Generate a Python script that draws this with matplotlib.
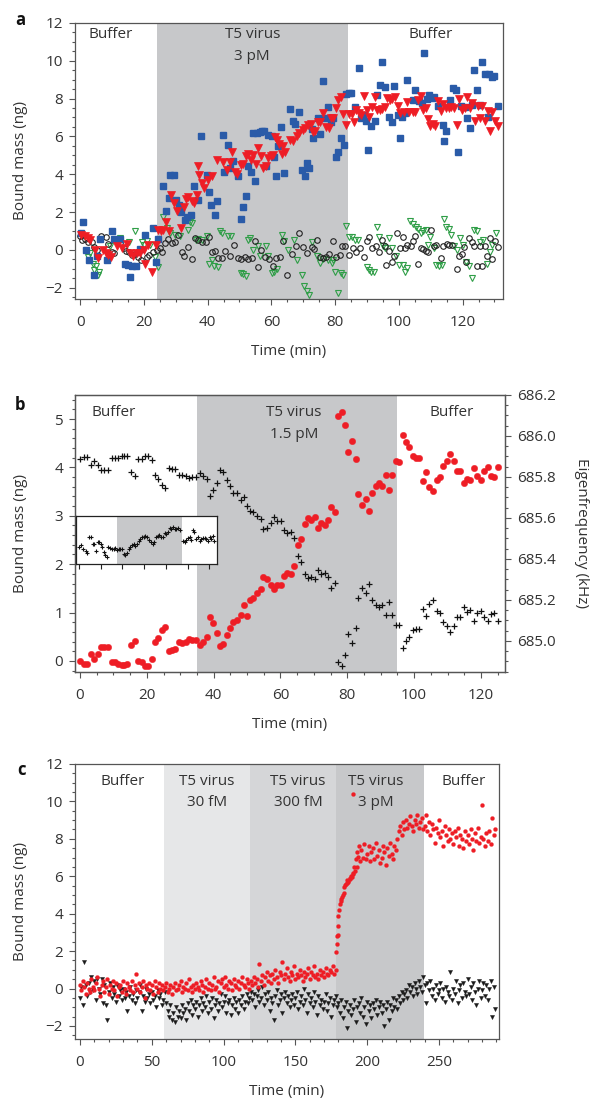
import numpy as np
import matplotlib
matplotlib.use("Agg")
import matplotlib.pyplot as plt
from matplotlib.ticker import MultipleLocator, NullFormatter, FormatStrFormatter

plt.rcParams["font.family"] = ["Open Sans", "DejaVu Sans"]

# ============================================================
# data
# ============================================================

# --- panel a : bound mass (ng) vs time (min)
a_blue_t = [0.2, 0.8, 1.8, 2.7, 4.5, 5.2, 6.3, 8.4, 10.0, 10.7, 12.6, 14.1, 14.9, 15.7, 16.4,
            17.4, 18.7, 20.5, 22.9, 23.7, 24.6, 25.9, 26.9, 27.8, 28.3, 29.4, 30.0, 31.0, 31.7,
            32.9, 33.6, 34.7, 35.6, 37.0, 38.0, 39.7, 40.6, 41.2, 42.2, 42.9, 44.7, 45.2, 46.4,
            47.1, 47.9, 49.5, 50.4, 51.1, 51.9, 52.6, 53.5, 54.2, 55.0, 55.4, 56.4, 57.0, 57.8,
            58.4, 59.1, 60.1, 60.7, 61.6, 62.2, 62.9, 64.1,
            65.8, 66.9, 67.5, 68.6, 69.5, 70.5, 71.1, 71.9, 72.6, 73.1, 74.7, 75.4, 76.1, 76.9,
            77.7, 78.6, 79.2, 80.3, 81.0, 81.7, 82.7, 83.3, 84.4, 85.1, 86.3, 87.6, 88.2, 88.7,
            89.6, 90.4, 91.3, 92.4, 93.2, 94.0, 94.7, 95.6, 97.0, 97.7, 98.6, 99.6, 100.3, 101.0,
            101.9, 102.7, 104.3, 105.2, 106.3, 107.3, 107.9, 108.8, 109.5, 110.3, 110.9, 112.4,
            113.7, 114.1, 114.9, 116.0, 116.9, 117.9, 118.6, 119.6, 120.7, 121.3, 122.2, 123.1,
            123.7, 124.6, 125.3, 126.2, 126.9, 127.9, 128.3, 129.2, 130.0, 131.0]
a_blue_m = [0.88, 1.45, 0.0, -0.56, -1.32, -0.32, 0.56, -0.56, 0.97, 0.56, 0.56, -0.76, -0.79,
            -1.45, -0.88, -0.88, 0.04, 0.79, 1.15, -0.67, 0.58, 3.40, 2.08, 2.75, 3.97, 3.97,
            2.61, 2.38, 2.01, 1.59, 1.71, 1.85, 3.35, 2.65, 6.03, 3.97, 3.05, 2.38, 1.85, 2.56,
            6.08, 4.14, 5.52, 4.32, 4.71, 3.92, 1.64, 2.29, 2.87, 4.46, 4.09, 6.17, 3.65, 6.17,
            6.23, 6.30, 6.30, 4.46, 6.08, 6.03, 4.90, 3.93, 5.50, 6.51, 4.06,
            7.46, 6.79, 6.65, 7.27, 4.20, 3.88, 4.59, 4.32, 6.38, 5.91, 6.97, 6.14, 8.91, 6.97,
            7.53, 6.74, 6.97, 4.90, 5.20, 5.91, 5.56, 8.25, 8.32, 8.32, 7.58, 9.61, 6.97, 7.14,
            6.84, 5.29, 6.56, 6.79, 8.20, 8.73, 9.96, 8.61, 7.02, 6.74, 8.64, 7.14, 5.94, 7.02,
            7.23, 8.99, 7.94, 8.47, 7.85, 7.76, 10.41, 7.97, 8.20, 8.02, 8.08, 7.62, 6.61, 5.78,
            6.31, 7.94, 8.55, 8.47, 5.20, 7.62, 7.58, 6.97, 6.47, 7.67, 9.49, 8.47, 7.67, 9.96,
            9.31, 7.05, 9.28, 9.12, 9.21, 7.62]

a_red_t = [0.3, 1.4, 2.4, 3.1, 4.7, 5.7, 7.3, 8.0, 8.9, 9.7, 11.5, 13.1, 14.6, 15.7, 16.7,
           17.8, 18.8, 19.9, 20.4, 21.2, 22.7, 23.7, 24.4, 25.4, 26.1, 26.9, 28.0, 28.5, 29.5,
           30.3, 31.7, 32.5, 33.2, 34.0, 35.0, 35.7, 36.6, 37.0, 37.3, 38.1, 38.9, 40.2, 41.3,
           43.0, 44.9, 46.2, 47.0, 47.7, 48.6, 49.3, 50.4, 51.2, 52.0, 52.8, 53.5, 54.3, 55.2,
           55.9, 56.6, 57.5, 58.2, 59.0, 59.8, 60.6, 61.3, 61.9, 62.5, 63.2, 63.7, 64.2,
           65.8, 66.9, 67.9, 68.8, 69.8, 70.6, 71.5, 72.3, 73.1, 73.8, 74.6, 75.4, 76.1, 77.1,
           78.0, 78.8, 79.4, 80.2, 80.9, 81.7, 82.5, 83.4, 84.4, 85.3, 85.9, 86.7, 87.6, 88.2,
           89.0, 89.9, 90.7, 91.5, 92.6, 93.2, 94.0, 94.7, 95.5, 96.3, 97.2, 98.0, 98.8, 99.7,
           100.5, 101.6, 102.4, 103.2, 104.3, 105.1, 106.0, 106.8, 107.6, 108.5, 109.1, 109.7,
           110.6, 111.4, 112.2, 113.1, 113.9, 114.7, 115.6, 116.4, 117.3, 118.1, 118.9, 119.7,
           120.6, 121.4, 122.2, 123.1, 123.9, 124.8, 125.4, 126.2, 127.0, 127.9, 128.5, 129.3,
           130.2, 131.0]
a_red_m = [0.79, 0.71, 0.62, 0.53, 0.0, -0.44, 0.0, -0.18, -0.26, -0.39, 0.18, 0.09, 0.32,
           -0.18, -0.32, -0.18, -0.18, 0.0, -0.74, 0.26, -1.15, 0.26, 1.06, 0.97, 1.06, 1.46,
           0.97, 2.91, 2.47, 2.08, 1.18, 2.29, 2.68, 2.79, 2.56, 2.50, 2.91, 4.44, 3.97, 3.53,
           3.26, 3.67, 3.92,
           4.73, 4.64, 4.23, 4.67, 5.20, 4.14, 4.00, 4.50, 4.53, 4.94, 5.08, 4.76, 5.03, 4.53,
           5.41, 4.94, 4.32, 4.41, 4.85, 4.97, 5.03, 5.96, 5.82, 5.61, 5.08, 5.47, 5.15,
           5.82, 5.73, 6.00, 6.17, 6.35, 6.44, 6.61, 6.67, 6.21, 6.26, 6.74, 6.74, 7.23, 6.49,
           6.44, 6.97, 6.97, 7.50, 7.94, 8.06, 7.20, 6.61, 7.20, 7.20, 6.75, 7.41, 7.23, 7.14,
           8.15, 7.41, 7.05, 7.55, 8.08, 7.41, 7.41, 7.46, 7.55, 8.02, 7.94, 7.97, 8.08, 7.62,
           7.23, 7.27, 7.80, 7.27, 7.27, 7.27, 7.90, 8.11, 7.41, 7.50, 6.91, 6.56, 6.67, 6.56,
           7.85, 7.32, 7.72, 7.50, 7.50, 7.58, 7.50, 6.61, 7.97, 7.41, 7.50, 8.08, 7.50, 7.76,
           6.84, 7.62, 6.97, 7.62, 6.79, 7.32, 6.31, 7.27, 6.84, 6.56]

a_green_t = [2.6, 3.1, 3.9, 4.5, 4.9, 5.5, 6.0, 9.4, 12.0, 12.5, 15.2, 17.2, 19.3, 19.9, 20.9,
             22.0, 23.5, 24.4, 26.1, 27.2, 28.2, 29.8, 31.3, 33.9, 34.5, 35.2, 36.3, 37.1, 38.1,
             39.7, 40.4, 41.3, 42.1, 43.2, 43.9, 44.4, 46.3, 47.5, 50.4, 51.2, 51.9, 52.8, 53.3,
             54.3, 55.7, 56.4, 58.2, 59.0, 60.1, 60.9, 61.7, 63.2, 64.1, 65.3,
             67.1, 67.9, 69.5, 70.2, 71.1, 71.9, 72.9, 74.2, 75.4, 76.3, 77.8, 78.9, 79.4, 80.1,
             81.0, 81.7, 82.5, 83.4, 84.4, 85.3, 86.3, 87.2, 89.9, 90.7, 91.4, 92.2, 93.0, 93.8,
             94.9, 95.7, 97.0, 98.0, 99.0, 100.1, 101.2, 102.0, 102.6, 103.5, 104.5, 105.3,
             106.1, 106.8, 107.6, 108.5, 109.2, 109.9, 111.0, 111.8, 112.6, 113.4, 114.1, 114.7,
             115.6, 116.4, 117.4, 118.1, 119.1, 120.2, 121.2, 122.0, 122.9, 123.5, 124.4, 125.4,
             126.4, 127.7, 128.5, 129.3, 130.4]
a_green_m = [-0.39, -0.18, -0.74, -1.06, -0.88, -1.32, -1.15, 0.18, 0.53, 0.62, 0.44, 1.02,
             0.44, 0.26, 0.49, 0.26, -0.39, -0.92, 1.76, 1.15, 0.88, 0.79, 0.74, 1.06, 1.45,
             1.41, 0.53, 0.56, 0.53, 0.74, -0.74, -0.53, -0.85, -0.92, 1.01, 0.88, 0.74, 0.71,
             -1.20, -1.27, -1.38, 0.53, 0.62, 0.0, 0.18, -0.32, 0.21, -0.35, -1.20, -1.15, -1.02,
             0.79, 0.49, 0.0,
             0.53, -0.53, -1.32, -1.90, -2.20, -2.38, 0.44, -0.35, -0.71, -0.49, -0.53, -0.71,
             -0.53, -1.15, -2.26, -1.23, -1.32, 1.27, 0.67, 0.67, 0.53, 0.53, -0.92, -1.09,
             -1.15, -1.15, 1.20, 0.67, 0.18, 0.09, 0.62, 0.09, -0.32, -0.79, -0.79, -1.15, -0.97,
             1.55, 1.38, 1.23, 1.09, 0.88, 1.02, 1.06, 0.26, 0.67, 0.09, -0.79, -0.85, -0.79,
             1.62, 1.23, 1.09, 0.79, 0.21, 0.0, 0.62, 0.26, -0.62, -0.88, -1.50, 1.06, 1.02,
             0.44, 0.53, -0.74, -0.09, 0.26, 0.88]

a_black_t = [0.0, 0.7, 1.6, 2.6, 3.7, 4.5, 5.2, 6.6, 8.0, 8.9, 9.9, 10.8, 12.5, 13.9, 14.3,
             15.2, 16.4, 17.2, 18.1, 19.1, 20.9, 21.6, 23.0, 24.0, 25.1, 25.8, 26.6, 27.7, 28.7,
             29.8, 30.8, 31.9, 32.7, 33.9, 35.0, 36.0, 37.1, 38.1, 39.4, 40.5, 41.5, 42.3, 43.4,
             44.4, 45.5, 47.0, 48.4, 49.4, 50.4, 51.7, 52.8, 53.8, 54.9, 55.9, 56.9, 58.0, 59.2,
             60.6, 61.6, 62.7, 63.7, 64.8,
             66.4, 67.7, 68.8, 70.0, 71.3, 72.6, 73.4, 74.4, 75.4, 76.3, 77.1, 78.2, 79.2, 80.3,
             81.5, 82.3, 83.1, 84.4, 85.7, 86.7, 87.8, 89.0, 89.9, 90.7, 91.7, 92.8, 93.8, 94.7,
             95.6, 96.1, 97.0, 97.8, 98.6, 99.5, 100.3, 101.2, 101.9, 102.6, 103.7, 104.5, 105.0,
             106.0, 106.8, 107.6, 108.5, 109.2, 110.1, 111.0, 111.8, 113.2, 113.9, 115.0, 115.8,
             116.8, 118.1, 118.9, 119.7, 120.4, 121.2, 122.0, 122.9, 123.7, 124.6, 125.4, 126.2,
             127.0, 127.8, 128.5, 129.3, 130.2, 131.0]
a_black_m = [0.74, 0.53, 0.56, 0.44, 0.39, 0.14, 0.0, 0.74, 0.67, 0.32, -0.09, -0.18, 0.35,
             0.09, -0.04, -0.09, -0.26, -0.21, -0.39, -0.53, -0.39, -0.26, -0.09, 0.0, 0.09,
             -0.09, 0.35, 0.56, 0.35, 0.44, 0.79, -0.09, -0.32, 0.14, -0.49, 0.62, 0.53, 0.44,
             0.44, 0.67, -0.09, -0.05, -0.44, -0.44, -0.04, -0.32, 0.26, -0.44, -0.49, -0.39,
             -0.49, -0.44, 0.49, -0.92, 0.0, -0.39, -0.49, -0.88, -0.44, -0.39, 0.49, -1.32,
             -0.21, 0.18, 0.88, 0.14, -0.18, 0.14, 0.04, 0.53, -0.39, -0.44, -0.39, -0.21, 0.49,
             -0.39, -0.26, 0.18, 0.21, -0.26, 0.09, -0.09, 0.09, -0.39, 0.49, 0.67, 0.09, 0.21,
             -0.09, 0.53, 0.18, -0.79, -0.04, -0.62, -0.35, 0.88, 0.09, 0.67, 0.09, 0.26, 0.21,
             0.49, 0.74, -0.74, 0.09, 0.04, -0.04, -0.09, 1.06, 0.21, 0.26, -0.44, 0.21, 0.32,
             0.26, 0.26, -1.02, -0.35, -0.21, 0.14, -0.62, 0.62, 0.44, 0.21, -0.85, 0.18, -0.85,
             0.21, -0.35, 0.62, -0.49, 0.49, 0.14]

# --- panel b : bound mass (ng, left) and eigenfrequency (kHz, right)
b_t = [0.0, 1.2, 2.2, 3.2, 4.3, 5.3, 6.3, 7.3, 8.3, 9.5, 10.5, 11.5, 12.5, 13.3, 14.2, 15.2,
       16.5, 17.5, 18.5, 19.5, 20.5, 21.5, 22.5, 23.5, 24.5, 25.5, 26.5, 27.5, 28.5, 29.6, 30.6,
       31.6, 32.6, 33.6, 34.8, 35.9, 36.9, 37.9, 38.9, 39.9, 40.9, 41.9, 42.9, 43.9, 44.9, 45.9,
       46.9, 48.1, 49.1, 49.9, 50.9, 51.9, 52.9, 54.1, 54.9, 56.1, 57.1, 58.1, 59.1, 60.1, 61.1,
       62.1, 63.2, 64.2, 65.2, 66.2, 67.2, 68.2, 69.2, 70.2, 71.2, 72.2, 73.2, 74.2, 75.1, 76.3,
       77.3, 78.3, 79.3, 80.3, 81.3, 82.5, 83.3, 84.3, 85.5, 86.5, 87.5, 88.5, 89.5, 90.5, 91.5,
       92.5, 93.5, 94.5, 95.6, 96.6, 97.6, 98.6, 99.6, 100.6, 101.6, 102.6, 103.6, 104.6, 105.8,
       106.8, 107.8, 108.8, 109.8, 110.8, 111.8, 112.8, 113.8, 114.8, 115.8, 116.8, 117.8,
       118.8, 120.0, 121.0, 122.0, 123.0, 124.0, 125.0]
b_mass = [0.0, -0.06, -0.06, 0.14, 0.03, 0.14, 0.28, 0.28, 0.28, -0.03, -0.03, -0.06, -0.09,
          -0.09, -0.06, 0.32, 0.41, -0.01, -0.03, -0.10, -0.10, 0.03, 0.38, 0.48, 0.63, 0.69,
          0.21, 0.23, 0.24, 0.38, 0.37, 0.39, 0.46, 0.43, 0.43, 0.33, 0.40, 0.49, 0.90, 0.78,
          0.58, 0.30, 0.35, 0.54, 0.67, 0.81, 0.85, 0.94, 1.15, 0.93, 1.26, 1.30, 1.40, 1.48,
          1.73, 1.69, 1.57, 1.48, 1.56, 1.56, 1.76, 1.81,
          1.79, 1.96, 2.39, 2.53, 2.84, 2.95, 2.91, 2.98, 2.74, 2.86, 2.81, 2.91, 3.19, 3.07,
          5.06, 5.15, 4.87, 4.32, 4.55, 4.17, 3.45, 3.22, 3.34, 3.09, 3.48, 3.61, 3.68, 3.62,
          3.85, 3.53, 3.84, 4.13, 4.12, 4.68, 4.52, 4.42, 4.24, 4.19, 4.19, 3.71, 3.90, 3.60,
          3.51, 3.74, 3.81, 4.04, 4.14, 4.27, 4.14, 3.93, 3.93, 3.67, 3.77, 3.74, 3.99, 3.82,
          3.74, 3.92, 4.02, 3.83, 3.80, 4.01]
b_freq = [685.885, 685.896, 685.896, 685.860, 685.876, 685.860, 685.836, 685.836, 685.836,
          685.893, 685.893, 685.893, 685.904, 685.904, 685.901, 685.823, 685.803, 685.888,
          685.888, 685.904, 685.904, 685.881, 685.811, 685.790, 685.762, 685.746, 685.844,
          685.839, 685.839, 685.811, 685.811, 685.803, 685.795, 685.800, 685.800, 685.820,
          685.806, 685.790, 685.705, 685.734, 685.771, 685.832, 685.823, 685.783, 685.757,
          685.722, 685.722, 685.689, 685.702, 685.659, 685.636, 685.631, 685.610, 685.594,
          685.545, 685.550, 685.577, 685.604, 685.587, 685.587, 685.542, 685.528,
          685.533, 685.501, 685.414, 685.386, 685.327, 685.308, 685.311, 685.300, 685.347,
          685.324, 685.332, 685.310, 685.259, 685.282, 684.896, 684.875, 684.929, 685.035,
          684.989, 685.065, 685.207, 685.256, 685.231, 685.277, 685.200, 685.174, 685.166,
          685.177, 685.128, 685.189, 685.128, 685.075, 685.076, 684.965, 684.998, 685.017,
          685.051, 685.060, 685.060, 685.154, 685.120, 685.182, 685.197, 685.148, 685.138,
          685.091, 685.070, 685.043, 685.073, 685.114, 685.114, 685.166, 685.143, 685.151,
          685.099, 685.135, 685.145, 685.114, 685.096, 685.133, 685.138, 685.097]

# inset of panel b (no scale given, arbitrary units)
inset_t = [0.3, 1.8, 4.0, 6.2, 7.7, 9.5, 11.1, 12.6, 14.2, 15.7, 17.2, 18.7, 20.3, 21.5, 23.0,
           24.3, 25.5, 27.0, 28.6, 30.4, 31.9, 33.5, 35.0, 36.6, 38.1, 39.6, 41.2, 42.7, 44.2,
           45.8, 47.3, 48.9, 50.4, 51.9, 53.5, 55.0, 56.5, 58.1, 59.6, 61.1, 62.7, 64.8, 66.4,
           67.9, 69.4, 71.0, 72.5, 74.0, 75.6, 77.1, 78.7, 80.2, 81.7, 83.3, 84.8, 86.3, 87.9,
           89.4, 90.9, 92.5, 95.5, 97.1, 98.6, 100.2, 101.7, 103.5, 105.1, 106.0, 107.8, 109.4,
           110.9, 112.4, 114.0, 115.5, 117.1, 118.6, 120.1, 121.7, 123.2, 124.1]
inset_v = [3.5, 3.9, 3.2, 2.8, 2.2, 5.7, 5.6, 4.2, 4.2, 2.7, 4.6, 4.5, 4.1, 3.5, 2.5, 1.8,
           1.4, 3.6, 3.4, 3.1, 3.1, 3.4, 2.9, 3.1, 3.1, 3.1, 2.1, 1.8, 2.4, 3.1, 3.6, 3.9, 4.1,
           3.8, 4.2, 4.8, 5.3, 5.6, 5.7, 5.9, 5.7, 5.0, 4.6, 4.2, 4.6, 5.7, 5.9, 6.0, 5.7, 5.6,
           6.4, 6.2, 6.6, 7.6, 7.3, 7.7, 7.3, 7.4, 7.6, 7.0, 4.8, 4.6, 5.0, 5.5, 5.6, 5.0, 7.0,
           6.7, 5.2, 5.6, 4.8, 5.2, 5.5, 5.5, 5.2, 4.9, 5.6, 5.2, 5.9, 4.8]

# --- panel c : one reading per minute, 0..289 min
c_red = [0.2, -0.1, 0.4, 0.1, -0.3, 0.3, 0.0, -0.2, 0.5, 0.1,
         -0.1, 0.3, 0.6, 0.0, -0.4, 0.2, 0.4, -0.2, 0.1, 0.5,
         -0.3, 0.2, 0.0, 0.4, -0.1, 0.3, -0.4, 0.1, 0.2, -0.2,
         0.4, 0.0, -0.3, 0.3, 0.1, -0.1, 0.4, -0.2, 0.2, 0.8,
         0.0, 0.3, -0.2, 0.1, 0.4, -0.5, 0.2, 0.0, 0.3, -0.1,
         0.2, -0.3, 0.4, 0.1, -0.2, 0.3, 0.0, 0.2, -0.1, 0.1,
         0.3, -0.2, 0.0, 0.2, -0.3, 0.1, 0.3, -0.1, 0.0, 0.2,
         0.4, -0.2, 0.1, 0.0, 0.3, -0.1, 0.5, 0.1, -0.2, 0.2,
         0.0, 0.3, 0.1, -0.1, 0.4, 0.2, -0.2, 0.1, 0.5, 0.0,
         0.3, -0.1, 0.2, 0.6, 0.0, 0.1, 0.4, -0.2, 0.3, 0.5,
         0.1, 0.6, 0.2, 0.0, 0.4, 0.3, -0.1, 0.5, 0.2, 0.1,
         0.4, 0.0, 0.3, 0.6, 0.2, 0.1, 0.5, 0.3, 0.0, 0.4,
         0.2, 0.6, 0.3, 0.5, 0.1, 1.3, 0.4, 0.7, 0.2, 0.6,
         0.9, 0.4, 0.7, 0.3, 0.8, 0.5, 1.0, 0.6, 0.3, 0.9,
         0.7, 1.4, 0.5, 0.8, 1.1, 0.6, 0.4, 0.9, 0.7, 1.2,
         0.5, 0.8, 0.6, 1.0, 0.7, 0.4, 0.9, 0.6, 0.8, 1.1,
         0.5, 0.9, 0.7, 1.2, 0.6, 0.8, 0.5, 1.0, 0.7, 0.9,
         0.6, 1.1, 0.8, 0.7, 1.0, 0.9, 1.2, 0.8, 1.0, 2.8,
         3.9, 4.5, 4.8, 5.0, 5.4, 5.6, 5.8, 5.7, 5.9, 6.0,
         6.2, 6.5, 6.9, 7.3, 7.6, 6.8, 7.4, 7.0, 7.7, 6.9,
         7.2, 7.6, 6.8, 7.3, 7.5, 6.9, 7.8, 7.1, 7.4, 6.7,
         7.0, 7.6, 7.3, 6.6, 7.5, 7.1, 7.8, 7.2, 6.9, 7.6,
         7.4, 8.0, 8.4, 8.7, 8.2, 8.9, 8.5, 9.0, 8.6, 8.8,
         9.2, 8.7, 8.4, 9.0, 8.8, 9.3, 8.6, 8.9, 9.1, 8.5,
         8.7, 9.3, 8.4, 8.9, 8.2, 8.8, 8.5, 7.8, 8.6, 8.3,
         9.0, 8.1, 8.4, 7.6, 8.7, 8.2, 7.9, 8.5, 8.0, 8.3,
         7.7, 8.4, 8.1, 8.6, 7.6, 8.2, 8.0, 7.5, 8.4, 7.9,
         8.2, 7.7, 8.5, 8.0, 7.4, 8.3, 7.9, 8.6, 7.8, 8.1,
         9.8, 8.0, 7.6, 8.3, 7.9, 8.4, 7.7, 9.1, 8.2, 8.5]
c_black = [-0.5, 0.1, -0.9, 1.4, 0.2, -0.4, 0.3, -0.2, 0.6, -0.1,
           0.4, -0.6, 0.5, 0.0, -0.3, 0.5, -0.8, 0.2, -0.9, -1.7,
           -0.2, 0.3, -0.5, 0.1, -0.3, -0.7, 0.2, -0.4, -0.1, -0.6,
           0.0, -0.5, -0.2, -1.2, -0.4, 0.1, -0.6, -0.3, -0.8, -0.1,
           -0.5, -0.2, 0.2, -1.2, -0.4, -0.7, 0.0, -0.5, -0.3, -0.8,
           -0.2, -0.6, -0.4, -1.0, -0.1, -0.5, -0.3, -0.9, -0.6, -0.2,
           -0.8, -1.2, -1.5, -0.9, -1.7, -1.3, -1.8, -1.0, -1.5, -1.2,
           -1.6, -0.9, -1.3, -1.1, -1.7, -0.8, -1.2, -0.6, -1.4, -0.9,
           -1.1, -0.7, -1.5, -0.9, -0.5, -1.2, -0.8, -1.0, -0.4, -1.3,
           -0.7, -1.1, -0.5, -1.6, -0.9, -0.6, -1.2, -0.8, -0.3, -1.0,
           -0.7, -0.4, -1.3, -0.8, -0.6, -1.4, -0.9, -0.5, -1.1, -0.7,
           -1.3, -0.6, -0.9, -0.4, -1.1, -0.7, -0.3, -0.8, -0.5, -0.2,
           -0.6, -0.3, -1.0, -0.4, -0.1, -0.7, -0.5, 0.1, -0.9, -0.3,
           -0.6, -0.2, -1.2, -0.5, -0.8, -1.7, -0.4, -0.1, -0.9, -0.6,
           -0.3, -1.3, -0.5, -0.2, -0.8, -0.4, -1.0, -0.6, -0.3, -0.9,
           -0.5, -0.2, -1.1, -0.7, -0.4, -0.9, 0.0, -0.6, -1.3, -0.3,
           -0.8, -0.5, -1.0, -0.2, -0.7, -1.4, -0.4, -0.9, -0.6, -1.1,
           -0.7, -0.3, -1.2, -0.8, -0.5, -1.5, -0.9, -0.6, -0.4, -1.0,
           -0.8, -1.3, -0.6, -1.6, -1.0, -0.7, -2.1, -1.2, -0.9, -1.4,
           -1.1, -0.6, -1.8, -1.0, -0.8, -1.3, -0.5, -1.5, -1.0, -1.9,
           -0.7, -1.2, -0.9, -1.6, -0.8, -1.1, -0.6, -1.4, -1.0, -0.7,
           -1.3, -0.9, -2.0, -1.1, -0.7, -1.7, -0.9, -1.2, -0.5, -1.0,
           -0.6, -1.1, -0.4, -0.8, -0.2, -0.6, -0.3, -0.1, -0.5, 0.2,
           -0.2, 0.1, -0.4, 0.3, 0.0, -0.3, 0.4, 0.1, -0.2, 0.6,
           0.2, -0.8, 0.3, -0.1, 0.4, -0.4, 0.0, -0.6, 0.2, -0.3,
           -0.1, 0.3, -0.5, 0.0, -0.7, 0.1, -0.2, -0.4, 0.9, -0.6,
           0.0, -0.3, 0.4, -0.8, -0.1, 0.2, -0.5, 0.3, -0.2, -0.4,
           0.5, -0.3, 0.1, -0.6, 0.3, -0.2, -0.9, 0.0, 0.4, -0.5,
           -0.1, 0.3, -0.4, 0.2, -0.6, 0.0, 0.4, -1.5, 0.1, -1.1]
c_t = np.arange(len(c_red), dtype=float)  # 1 min sampling

# extra red points on the steep rise after 3 pM injection
c_rise_t = [178.3, 178.7, 179.4, 179.9, 180.6, 181.5, 182.5, 183.8, 184.5, 185.7, 186.9,
            188.0, 189.2, 190.3, 190.3, 191.5, 192.7, 193.8]
c_rise_m = [1.96, 2.37, 2.85, 3.33, 4.19, 4.68, 4.90, 5.08, 5.52, 5.65, 5.76, 5.83, 5.97, 6.11,
            10.4, 6.29, 6.51, 7.04]

# ============================================================
# style
# ============================================================

RED = "#ee1d25"
BLUE = "#2a5ba8"
GREEN = "#2f9e47"
GRAY = "#c7c8ca"
EDGE = "#555555"
TXT = "#333333"
FS = 11
W_PX = 595.0


def style_axes(ax, xmaj, xmin, ymaj, ymin):
    ax.xaxis.set_major_locator(MultipleLocator(xmaj))
    ax.xaxis.set_minor_locator(MultipleLocator(xmin))
    ax.yaxis.set_major_locator(MultipleLocator(ymaj))
    ax.yaxis.set_minor_locator(MultipleLocator(ymin))
    ax.tick_params(which="both", direction="out", color=EDGE, labelcolor=TXT,
                   labelsize=FS, width=0.8, top=False, right=False)
    ax.tick_params(which="major", length=4.5)
    ax.tick_params(which="minor", length=2.5)
    ax.tick_params(axis="y", which="major", pad=4)
    ax.tick_params(axis="x", which="major", pad=7)
    for sp in ax.spines.values():
        sp.set_color(EDGE)
        sp.set_linewidth(0.9)


def set_labels(ax, width_px):
    ax.set_xlabel("Time (min)", fontsize=FS, color=TXT, labelpad=10)
    ax.set_ylabel("Bound mass (ng)", fontsize=FS, color=TXT)
    # right edge of the rotated label sits ~28 px from the figure edge
    ax.yaxis.set_label_coords((28 - 75) / width_px, 0.5)


def region_text(ax, x, lines, ys):
    tr = ax.get_xaxis_transform()
    for s, y in zip(lines, ys):
        ax.text(x, y, s, transform=tr, ha="center", va="center",
                fontsize=FS, color=TXT)


fig = plt.figure(figsize=(5.95, 10.98), dpi=100)

# ------------------------------------------------------------
# panel a
# ------------------------------------------------------------
ax = fig.add_axes([0.126, 0.7277, 0.719, 0.2514])
ax.axvspan(24, 84, color=GRAY, lw=0, zorder=0)
ax.plot(a_green_t, a_green_m, ls="none", marker="v", ms=4.2, mfc="none",
        mec=GREEN, mew=0.8, zorder=2)
ax.plot(a_black_t, a_black_m, ls="none", marker="o", ms=4.0, mfc="none",
        mec="#222222", mew=0.8, zorder=3)
ax.plot(a_blue_t, a_blue_m, ls="none", marker="s", ms=4.3, mfc=BLUE,
        mec=BLUE, zorder=4)
ax.plot(a_red_t, a_red_m, ls="none", marker="v", ms=5.2, mfc=RED,
        mec=RED, mew=0.5, zorder=5)
ax.set_xlim(-1.6, 132.6)
ax.set_ylim(-2.6, 12)
style_axes(ax, 20, 5, 2, 0.5)
set_labels(ax, 0.719 * W_PX)
region_text(ax, 9.5, ["Buffer"], [0.958])
region_text(ax, 54, ["T5 virus", "3 pM"], [0.958, 0.878])
region_text(ax, 110, ["Buffer"], [0.958])
fig.text(0.034, 1 - 20 / 1098, "a", fontsize=12, fontweight="bold",
         ha="center", va="center", color="#111111")

# ------------------------------------------------------------
# panel b
# ------------------------------------------------------------
ax = fig.add_axes([0.126, 0.388, 0.7227, 0.2523])
ax.axvspan(35, 95, color=GRAY, lw=0, zorder=0)
ax.plot(b_t, b_mass, ls="none", marker="o", ms=4.6, mfc=RED, mec=RED,
        mew=0.3, zorder=4)
ax.set_xlim(-1.5, 127.2)
ax.set_ylim(-0.23, 5.5)
style_axes(ax, 20, 5, 1, 0.2)
set_labels(ax, 0.7227 * W_PX)
region_text(ax, 10.2, ["Buffer"], [0.935])
region_text(ax, 64, ["T5 virus", "1.5 pM"], [0.935, 0.859])
region_text(ax, 111.4, ["Buffer"], [0.935])

ax2 = ax.twinx()
ax2.plot(b_t, b_freq, ls="none", marker="+", ms=5, mec="#111111", mew=0.9)
ax2.set_ylim(684.848, 686.2)
ax2.yaxis.set_major_locator(MultipleLocator(0.2))
ax2.yaxis.set_minor_locator(MultipleLocator(0.05))
ax2.yaxis.set_major_formatter(FormatStrFormatter("%.1f"))
ax2.tick_params(which="both", direction="out", color=EDGE, labelcolor=TXT,
                labelsize=FS, width=0.8)
ax2.tick_params(which="major", length=4.5, pad=4)
ax2.tick_params(which="minor", length=2.5)
for sp in ax2.spines.values():
    sp.set_color(EDGE)
    sp.set_linewidth(0.9)
ax2.set_ylabel("Eigenfrequency (kHz)", fontsize=FS, color=TXT, rotation=270)
ax2.yaxis.set_label_coords((589 - 75) / (0.7227 * W_PX), 0.5)
fig.text(0.034, 1 - 405 / 1098, "b", fontsize=12, fontweight="bold",
         ha="center", va="center", color="#111111")

# inset
axi = fig.add_axes([0.1277, 0.4863, 0.237, 0.0437], zorder=10)
axi.set_facecolor("white")
axi.axvspan(35, 95, color=GRAY, lw=0, zorder=0)
axi.plot(inset_t, inset_v, ls="none", marker="+", ms=2.6, mec="#111111",
         mew=0.8, zorder=3)
axi.set_xlim(-2.8, 127)
axi.set_ylim(0, 10)
axi.xaxis.set_major_locator(MultipleLocator(20))
axi.xaxis.set_major_formatter(NullFormatter())
axi.set_yticks([])
axi.tick_params(axis="x", direction="out", length=3.5, width=0.8, color="#222222")
for sp in axi.spines.values():
    sp.set_color("#222222")
    sp.set_linewidth(0.9)

# ------------------------------------------------------------
# panel c
# ------------------------------------------------------------
ax = fig.add_axes([0.126, 0.0537, 0.7126, 0.2505])
ax.axvspan(58.5, 118.5, color="#e6e7e8", lw=0, zorder=0)
ax.axvspan(118.5, 178.5, color="#d5d6d8", lw=0, zorder=0)
ax.axvspan(178.5, 239.5, color="#c7c8ca", lw=0, zorder=0)
ax.plot(c_t, c_black, ls="none", marker="v", ms=3.0, mfc="#1a1a1a",
        mec="#1a1a1a", mew=0.3, zorder=3)
ax.plot(c_t, c_red, ls="none", marker="o", ms=2.9, mfc=RED, mec=RED,
        mew=0.2, zorder=4)
ax.plot(c_rise_t, c_rise_m, ls="none", marker="o", ms=2.9, mfc=RED, mec=RED,
        mew=0.2, zorder=4)
ax.set_xlim(-3.5, 291.8)
ax.set_ylim(-2.7, 12)
style_axes(ax, 50, 10, 2, 0.5)
set_labels(ax, 0.7126 * W_PX)
region_text(ax, 30, ["Buffer"], [0.936])
region_text(ax, 88.4, ["T5 virus", "30 fM"], [0.936, 0.859])
region_text(ax, 151.8, ["T5 virus", "300 fM"], [0.936, 0.859])
region_text(ax, 206, ["T5 virus", "3 pM"], [0.936, 0.859])
region_text(ax, 267.4, ["Buffer"], [0.936])
fig.text(0.036, 1 - 770 / 1098, "c", fontsize=12, fontweight="bold",
         ha="center", va="center", color="#111111")

fig.savefig("out.png", dpi=100)
